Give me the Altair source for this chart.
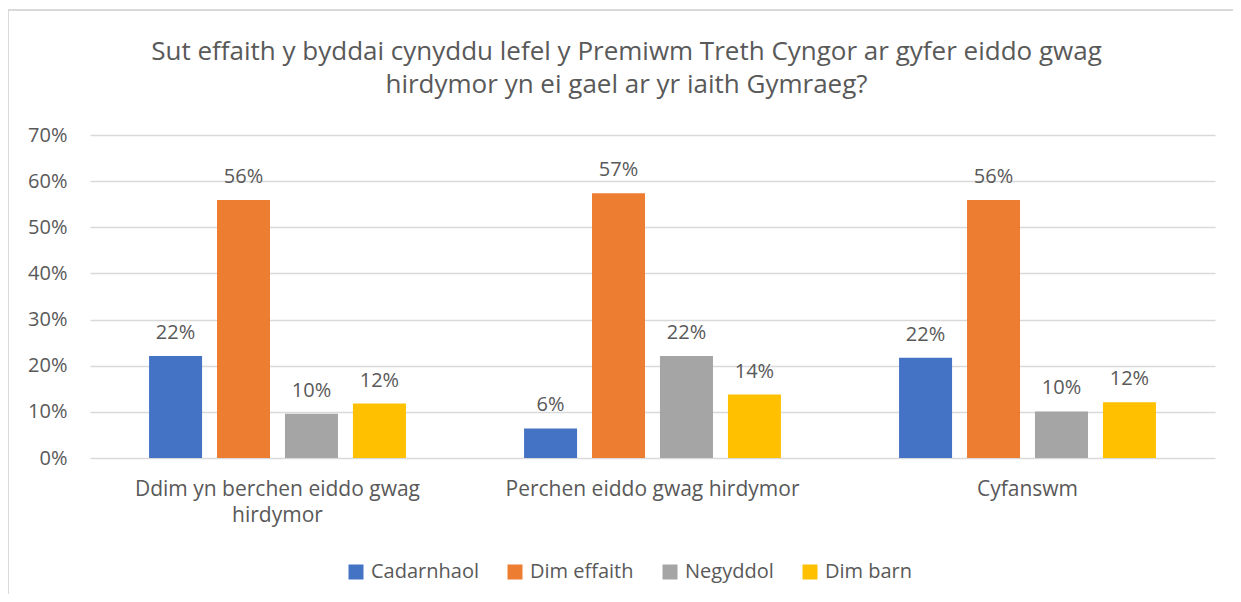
import altair as alt
import pandas as pd

groups = ["Ddim yn berchen eiddo gwag|hirdymor", "Perchen eiddo gwag hirdymor", "Cyfanswm"]
series = ["Cadarnhaol", "Dim effaith", "Negyddol", "Dim barn"]
colors = ["#4472C4", "#ED7D31", "#A5A5A5", "#FFC000"]
cadarnhaol = [0.221, 0.064, 0.217]
dim_effaith = [0.559, 0.574, 0.559]
negyddol = [0.096, 0.221, 0.101]
dim_barn = [0.118, 0.1375, 0.121]
y_ticks = [0, 0.1, 0.2, 0.3, 0.4, 0.5, 0.6, 0.7]
title_lines = ["Sut effaith y byddai cynyddu lefel y Premiwm Treth Cyngor ar gyfer eiddo gwag",
               "hirdymor yn ei gael ar yr iaith Gymraeg?"]

rows = []
for s, vals in zip(series, [cadarnhaol, dim_effaith, negyddol, dim_barn]):
    for g, v in zip(groups, vals):
        rows.append({"grp": g, "series": s, "value": v})
df = pd.DataFrame(rows)

FONT = "Open Sans"
TXT = "#595959"
GRID = "#D9D9D9"

x = alt.X("grp:N", sort=groups, title=None,
          scale=alt.Scale(paddingInner=0.315, paddingOuter=0.1575),
          axis=alt.Axis(labelExpr="split(datum.label, '|')", labelAngle=0,
                        domain=False, ticks=False, labelPadding=20,
                        labelBaseline="top", labelLineHeight=26, labelLimit=0,
                        labelFontSize=21, labelColor=TXT, labelFont=FONT))
xo = alt.XOffset("series:N", sort=series,
                 scale=alt.Scale(paddingInner=0.22, paddingOuter=0))
y = alt.Y("value:Q", title=None,
          scale=alt.Scale(domain=[0, 0.7]),
          axis=alt.Axis(values=y_ticks, format=".0%", domain=False, ticks=False,
                        labelPadding=23, labelFontSize=20, labelColor=TXT,
                        labelFont=FONT, gridColor=GRID, gridWidth=1.5))

base = alt.Chart(df)
bars = base.mark_bar().encode(
    x=x, xOffset=xo, y=y,
    color=alt.Color("series:N", sort=series,
                    scale=alt.Scale(domain=series, range=colors),
                    legend=alt.Legend(title=None, orient="none", direction="horizontal",
                                      legendX=256, legendY=427, padding=0,
                                      symbolType="square", symbolSize=225,
                                      symbolStrokeWidth=0, labelOffset=5,
                                      columnPadding=26, labelFontSize=20,
                                      labelColor=TXT, labelFont=FONT)),
)
labels = base.mark_text(baseline="alphabetic", dy=-17, fontSize=20,
                        color=TXT, font=FONT).encode(
    x=x, xOffset=xo, y=y,
    text=alt.Text("value:Q", format=".0%"),
)

one = alt.Chart(pd.DataFrame({"a": [0]}))
top_border = one.mark_rule(color=GRID, strokeWidth=2).encode(
    x=alt.value(-82), x2=alt.value(1160), y=alt.value(-125))
left_border = one.mark_rule(color=GRID, strokeWidth=2).encode(
    x=alt.value(-82), y=alt.value(-125), y2=alt.value(470))

chart = alt.layer(bars, labels, top_border, left_border).properties(
    width=1125, height=323,
    padding={"left": 82, "top": 127, "right": 18, "bottom": 136},
    autosize=alt.AutoSizeParams(type="none"),
    background="white",
    title=alt.TitleParams(title_lines, anchor="middle", frame="group", dx=-26, offset=-89,
                          fontSize=26, font=FONT, color=TXT, fontWeight="normal",
                          lineHeight=33),
).configure_view(stroke=None)

chart.save("out.html", embed_options={"renderer": "svg", "actions": False})
